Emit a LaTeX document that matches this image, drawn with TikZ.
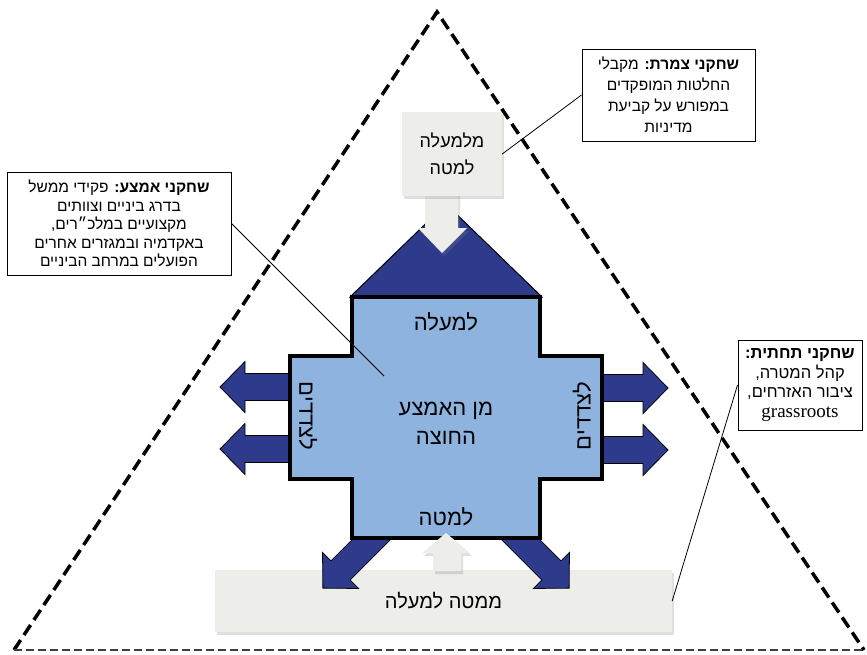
\documentclass[tikz,border=0pt]{standalone}
\usepackage{fontspec}
\setmainfont{Liberation Serif}
\newfontfamily\heb[Script=Hebrew]{Liberation Sans}
\TeXXeTstate=1
\usetikzlibrary{shadows}
\definecolor{darkblue}{RGB}{46,58,140}
\definecolor{lightblue}{RGB}{141,179,222}
\definecolor{lightgrey}{RGB}{237,237,233}
\newcommand\hebline[1]{\beginR #1\endR}
\begin{document}
\begin{tikzpicture}[x=1pt,y=-1pt,
  tridash/.style={line width=3.5pt, dash pattern=on 12pt off 6pt, black},
  basedash/.style={line width=1.3pt, dash pattern=on 8pt off 4pt, black!75},
  callout/.style={draw=black, line width=1pt, fill=white, align=center, inner sep=0pt},
  greyshape/.style={fill=lightgrey, drop shadow={shadow xshift=2pt, shadow yshift=-3pt, opacity=0.25}},
  greybox/.style={greyshape, align=center, inner sep=0pt},
  bluearrow/.style={fill=darkblue, draw=black, line width=0.8pt},
  crossshape/.style={fill=lightblue, draw=black, line width=3.5pt},
  crosslabel/.style={font=\heb\fontsize{22}{29}\selectfont, inner sep=0pt},
  leader/.style={line width=0.8pt},
  pics/fatarrow/.style={code={
    \path[bluearrow] (0,-13.5) -- ({#1-25},-13.5) -- ({#1-25},-25.5) -- (#1,0)
      -- ({#1-25},25.5) -- ({#1-25},13.5) -- (0,13.5) -- cycle;}}
]
\useasboundingbox (0,0) rectangle (867,654);

% dashed triangle
\coordinate (apex) at (437,12);
\coordinate (bl) at (14,650);
\coordinate (br) at (864,650);
\draw[tridash] (bl) -- (apex) -- (br);
\draw[basedash] (bl) -- (br);

% bottom grey box
\node[greybox, minimum width=457pt, minimum height=62pt,
  font=\heb\fontsize{20}{26}\selectfont] (botbox) at (443.5,601) {\hebline{ממטה למעלה}};

% side arrows
\pic at (300,387) [rotate=180] {fatarrow=80};
\pic at (300,449) [rotate=180] {fatarrow=80};
\pic at (592,388) {fatarrow=76};
\pic at (592,450) {fatarrow=76};
% diagonal arrows
\pic at (383,528) [rotate=225] {fatarrow=85};
\pic at (509,528) [rotate=-45] {fatarrow=85};

% roof
\path[bluearrow, line width=1pt] (350,297) -- (446,204) -- (542,297) -- cycle;

% cross
\path[crossshape] (352,297) -- (540,297) -- (540,356) -- (602,356) -- (602,479)
  -- (540,479) -- (540,538) -- (352,538) -- (352,479) -- (290,479) -- (290,356)
  -- (352,356) -- cycle;

% up arrow from bottom box
\path[greyshape] (433,571) -- (433,553) -- (422,553) -- (446,533) -- (470,553)
  -- (461,553) -- (461,571) -- cycle;

% down arrow from top box
\path[greyshape] (425,190) -- (425,228) -- (418,228) -- (442,253) -- (467,228)
  -- (458,228) -- (458,190) -- cycle;
\node[greybox, minimum width=100pt, minimum height=84pt,
  font=\heb\fontsize{18}{27}\selectfont] (topbox) at (452,154)
  {\hebline{מלמעלה}\\\hebline{למטה}};

% cross labels
\node[crosslabel] (up) at (446,322) {\hebline{למעלה}};
\node[crosslabel, align=center] (mid) at (446,423) {\hebline{מן האמצע}\\\hebline{החוצה}};
\node[crosslabel] (down) at (446,517) {\hebline{למטה}};
\node[crosslabel, rotate=-90] (lside) at (308,416) {\hebline{לצדדים}};
\node[crosslabel, rotate=90] (rside) at (582,416) {\hebline{לצדדים}};
\coordinate (midpt) at (384,376);

% callouts
\node[callout, minimum width=173pt, minimum height=92pt,
  font=\heb\fontsize{15.5}{21}\selectfont] (tc) at (668.5,95)
  {\hebline{{\bfseries שחקני צמרת:} מקבלי}\\\hebline{החלטות המופקדים}\\
   \hebline{במפורש על קביעת}\\\hebline{מדיניות}};
\node[callout, minimum width=224pt, minimum height=103pt,
  font=\heb\fontsize{15.5}{18.5}\selectfont] (lc) at (119,223.5)
  {\hebline{{\bfseries שחקני אמצע:} פקידי ממשל}\\\hebline{בדרג ביניים וצוותים}\\
   \hebline{מקצועיים במלכ״רים,}\\\hebline{באקדמיה ובמגזרים אחרים}\\
   \hebline{הפועלים במרחב הביניים}};
\node[callout, minimum width=124pt, minimum height=90pt,
  font=\heb\fontsize{16.5}{19.5}\selectfont] (rc) at (800,385)
  {\hebline{\bfseries שחקני תחתית:}\\\hebline{קהל המטרה,}\\
   \hebline{ציבור האזרחים,}\\{\rmfamily\fontsize{19}{20}\selectfont grassroots}};

\draw[leader] (topbox.east) -- (tc.west);
\draw[leader] (lc.east) -- (midpt);
\draw[leader] (rc.west) -- (botbox.east);
\end{tikzpicture}
\end{document}
